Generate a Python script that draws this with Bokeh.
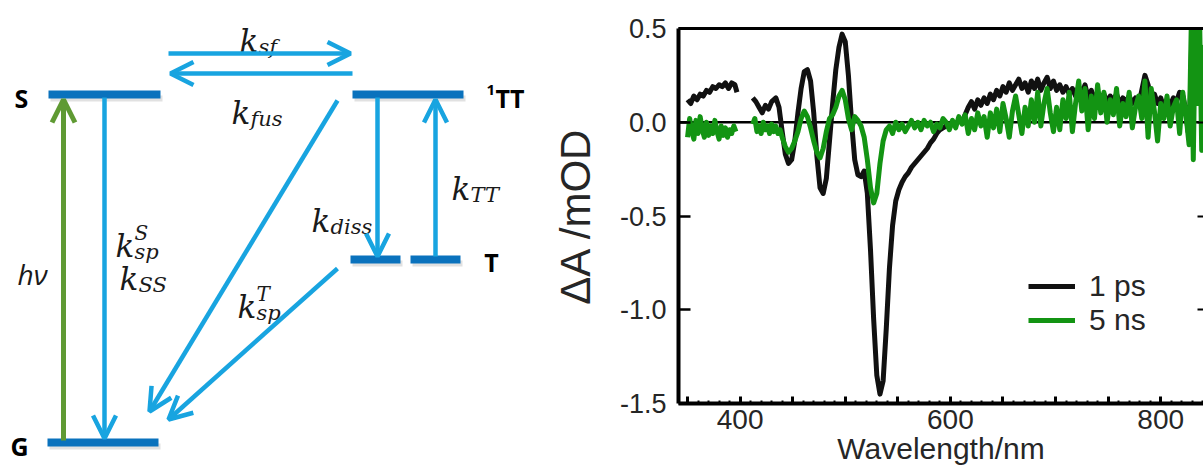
import math
from bokeh.plotting import figure
from bokeh.layouts import row, column
from bokeh.models import (Range1d, Arrow, OpenHead, Span, LinearAxis, FixedTicker,
                          NumeralTickFormatter, Legend, LegendItem)
from bokeh.core.properties import value
from bokeh.embed import file_html
from bokeh.resources import INLINE

NaN = float("nan")

# ---------------- transient absorption spectra ----------------
wl_1ps = [350, 353, 356, 359, 362, 365, 368, 371, 374, 377,
          380, 383, 386, 389, 392, 395, 397, NaN, 412, 415,
          418, 421, 424, 427, 430, 434, 437, 440, 443, 446,
          449, 452, 455, 458, 461, 464, 467, 470, 473, 476,
          479, 482, 485, 488, 491, 494, 497, 500, 503, 506,
          509, 512, 515, 518, 521, 524, 527, 530, 533, 536,
          539, 542, 545, 548, 551, 554, 557, 560, 563, 566,
          569, 572, 575, 578, 581, 584, 587, 590, 593, 596,
          599, 602, 605, 608, 611, 614, 617, 620, 623, 626,
          629, 632, 635, 638, 641, 644, 647, 650, 653, 656,
          659, 662, 665, 668, 671, 674, 677, 680, 683, 686,
          689, 692, 695, 698, 701, 704, 707, 710, 713, 716,
          719, 722, 725, 728, 731, 734, 737, 740, 743, 746,
          749, 752, 755, 758, 761, 764, 767, 770, 773, 776,
          779, 782, 785, 788, 791, 794, 797, 800, 803, 806,
          809, 812, 815, 818, 821, 824, 826, 828, 830, 833]
dA_1ps = [0.12, 0.10, 0.14, 0.12, 0.15, 0.14, 0.17, 0.16, 0.19, 0.18,
          0.20, 0.19, 0.21, 0.18, 0.21, 0.20, 0.16, NaN, 0.13, 0.11,
          0.08, 0.05, 0.09, 0.07, 0.11, 0.13, 0.08, -0.05, -0.17, -0.22,
          -0.20, -0.10, 0.05, 0.18, 0.27, 0.28, 0.22, 0.05, -0.18, -0.35,
          -0.38, -0.30, -0.10, 0.10, 0.28, 0.40, 0.47, 0.43, 0.25, 0.00,
          -0.20, -0.28, -0.29, -0.26, -0.38, -0.68, -1.05, -1.35, -1.45, -1.38,
          -1.10, -0.78, -0.55, -0.42, -0.36, -0.32, -0.29, -0.27, -0.24, -0.22,
          -0.20, -0.18, -0.16, -0.14, -0.11, -0.09, -0.06, -0.04, -0.03, -0.02,
          -0.01, 0.00, -0.01, 0.01, 0.00, 0.04, 0.08, 0.11, 0.07, 0.12,
          0.09, 0.13, 0.10, 0.15, 0.12, 0.17, 0.14, 0.19, 0.16, 0.21,
          0.17, 0.20, 0.23, 0.18, 0.21, 0.16, 0.22, 0.18, 0.23, 0.17,
          0.21, 0.24, 0.18, 0.22, 0.17, 0.20, 0.16, 0.19, 0.15, 0.18,
          0.14, 0.19, 0.15, 0.20, 0.13, 0.17, 0.12, 0.16, 0.13, 0.15,
          0.11, 0.14, 0.12, 0.15, 0.10, 0.13, 0.11, 0.14, 0.10, 0.13,
          0.09, 0.17, 0.25, 0.20, 0.12, 0.15, 0.10, 0.13, 0.08, 0.12,
          0.09, 0.13, 0.11, 0.16, 0.14, 0.06, -0.05, 0.10, 0.55, 0.60]

wl_5ns = [350, 352, 354, 356, 358, 360, 362, 364, 366, 368,
          370, 372, 374, 376, 378, 380, 382, 384, 386, 388,
          390, 392, 394, 396, NaN, 412, 414, 416, 418, 420,
          422, 424, 426, 428, 430, 432, 434, 436, 438, 440,
          443, 446, 449, 452, 455, 458, 461, 464, 467, 470,
          473, 476, 479, 482, 485, 488, 491, 494, 497, 500,
          503, 506, 509, 512, 515, 518, 521, 524, 527, 530,
          533, 536, 539, 542, 545, 548, 551, 554, 557, 560,
          563, 566, 569, 572, 575, 578, 581, 584, 587, 590,
          593, 596, 599, 602, 605, 608, 611, 614, 617, 620,
          623, 626, 629, 632, 635, 638, 641, 644, 647, 650,
          653, 656, 659, 662, 665, 668, 671, 674, 677, 680,
          683, 686, 689, 692, 695, 698, 701, 704, 707, 710,
          713, 716, 719, 722, 725, 728, 731, 734, 737, 740,
          743, 746, 749, 752, 755, 758, 761, 764, 767, 770,
          773, 776, 779, 782, 785, 788, 791, 794, 797, 800,
          803, 806, 809, 812, 815, 818, 821, 824, 827, 829,
          831, 833, 835, 837, 839, 841, 843]
dA_5ns = [-0.08, 0.02, -0.05, -0.09, 0.01, -0.06, 0.03, -0.04, -0.08, 0.00,
          -0.07, -0.02, -0.06, 0.01, -0.05, -0.09, -0.02, -0.07, -0.03, -0.08,
          -0.04, -0.06, -0.02, -0.05, NaN, -0.01, 0.02, -0.05, -0.02, -0.06,
          0.00, -0.04, -0.02, -0.06, -0.01, -0.05, -0.02, -0.06, -0.04, -0.08,
          -0.13, -0.16, -0.14, -0.10, -0.05, 0.02, 0.06, 0.03, -0.03, -0.10,
          -0.16, -0.19, -0.14, -0.05, 0.02, 0.04, 0.08, 0.14, 0.17, 0.12,
          0.02, -0.04, 0.03, 0.01, -0.02, -0.08, -0.20, -0.35, -0.43, -0.38,
          -0.22, -0.10, -0.04, -0.02, -0.06, 0.00, -0.04, -0.01, -0.05, -0.02,
          0.01, -0.03, 0.00, -0.04, 0.01, -0.02, 0.00, -0.05, -0.01, -0.03,
          0.02, 0.00, -0.04, 0.01, -0.03, 0.03, -0.01, 0.04, -0.06, 0.02,
          -0.04, 0.05, -0.02, 0.03, -0.08, 0.05, -0.03, 0.07, -0.05, 0.10,
          0.02, -0.08, 0.06, 0.14, 0.04, -0.06, 0.08, -0.02, 0.12, 0.00,
          0.16, -0.02, 0.10, 0.18, 0.05, -0.05, 0.08, -0.04, 0.12, 0.02,
          0.16, -0.05, 0.10, 0.22, 0.06, 0.18, -0.04, 0.14, 0.02, 0.20,
          0.05, 0.16, 0.00, 0.12, 0.04, 0.18, -0.02, 0.10, 0.03, 0.16,
          -0.03, 0.08, 0.14, 0.02, 0.22, -0.08, 0.18, 0.06, -0.10, 0.10,
          0.02, 0.14, -0.02, 0.08, 0.12, -0.06, 0.16, 0.04, -0.12, 0.50,
          -0.20, 0.55, 0.10, 0.55, -0.15, 0.40, 0.30]

series_labels = ["1 ps", "5 ns"]
y_ticks = [-1.5, -1.0, -0.5, 0.0, 0.5]
x_major_ticks = [350, 400, 450, 500, 550, 600, 650, 700, 750, 800]
x_minor_ticks = [360, 370, 380, 390, 410, 420, 430, 440, 460, 470, 480, 490,
                 510, 520, 530, 540, 560, 570, 580, 590, 610, 620, 630, 640,
                 660, 670, 680, 690, 710, 720, 730, 740, 760, 770, 780, 790,
                 810, 820, 830, 840]
x_label_ticks = [400, 600, 800]

assert len(wl_1ps) == len(dA_1ps) and len(wl_5ns) == len(dA_5ns)

# ---------------- energy-level diagram layout (schematic, screen pixels) ----------------
LEVEL_C = "#0a72bd"
ARROW_C = "#18a4e0"
HV_C = "#5f9a33"

level_x0 = [48, 352, 350, 410, 47]
level_x1 = [160, 463, 400, 460, 158]
level_y = [94, 94, 259, 259, 442]

# (x_start, y_start, x_end, y_end, colour)
arrows = [
    (63, 440, 63, 99, HV_C),
    (104, 97, 104, 438, ARROW_C),
    (168, 53, 350, 53, ARROW_C),
    (352, 73, 170, 73, ARROW_C),
    (337, 100, 149, 411, ARROW_C),
    (337, 268, 168, 419, ARROW_C),
    (377, 97, 377, 256, ARROW_C),
    (435, 256, 435, 99, ARROW_C),
]

# rate-constant labels: (x of "k", baseline y, subscript, superscript)
k_labels = [
    (239, 40, "sf", ""),
    (231, 112, "fus", ""),
    (115, 245, "sp", "S"),
    (119, 278, "SS", ""),
    (237, 306, "sp", "T"),
    (311, 220, "diss", ""),
    (451, 188, "TT", ""),
]

DW = 544
d = figure(frame_width=DW, frame_height=475, x_range=Range1d(0, DW), y_range=Range1d(475, 0),
           output_backend="svg", toolbar_location=None, min_border=0,
           x_axis_location=None, y_axis_location=None)
d.grid.visible = False
d.outline_line_color = None

# soft shadow under the level bars
d.segment(x0=[x + 2 for x in level_x0], y0=[y + 4 for y in level_y],
          x1=[x + 2 for x in level_x1], y1=[y + 4 for y in level_y],
          line_color="#888888", line_alpha=0.25, line_width=6)
d.segment(x0=level_x0, y0=level_y, x1=level_x1, y1=level_y,
          line_color=LEVEL_C, line_width=8, line_cap="butt")

for (xs, ys, xe, ye, c) in arrows:
    lw = 5 if c == HV_C else 4.5
    d.add_layout(Arrow(end=OpenHead(size=23, line_color=c, line_width=lw),
                       x_start=xs, y_start=ys, x_end=xe, y_end=ye,
                       line_color=c, line_width=lw))

KW = 19
d.text(x=[k[0] for k in k_labels], y=[k[1] for k in k_labels], text=["k"] * len(k_labels),
       text_font=value("DejaVu Serif"), text_font_style="italic", text_font_size="31px",
       text_baseline="alphabetic", text_align="left", text_color="#1a1a1a")
d.text(x=[k[0] + KW for k in k_labels], y=[k[1] + 6 for k in k_labels], text=[k[2] for k in k_labels],
       text_font=value("DejaVu Serif"), text_font_style="italic", text_font_size="21px",
       text_baseline="alphabetic", text_align="left", text_color="#1a1a1a")
sup = [k for k in k_labels if k[3]]
d.text(x=[k[0] + KW for k in sup], y=[k[1] - 13 for k in sup], text=[k[3] for k in sup],
       text_font=value("DejaVu Serif"), text_font_style="italic", text_font_size="20px",
       text_baseline="alphabetic", text_align="left", text_color="#1a1a1a")

d.text(x=[17], y=[273], text=["hν"], text_font=value("Open Sans"), text_font_style="italic",
       text_font_size="28px", text_baseline="alphabetic", text_align="left", text_color="#1a1a1a")

d.text(x=[21, 19, 491], y=[97, 445, 261], text=["S", "G", "T"],
       text_font=value("Open Sans"), text_font_style="bold", text_font_size="25px",
       text_baseline="middle", text_align="center", text_color="black")
d.text(x=[495], y=[97], text=["TT"], text_font=value("Open Sans"), text_font_style="bold",
       text_font_size="25px", text_baseline="middle", text_align="left", text_color="black")
d.text(x=[486], y=[89], text=["1"], text_font=value("Open Sans"), text_font_style="bold",
       text_font_size="15px", text_baseline="middle", text_align="left", text_color="black")

# ---------------- spectrum figure ----------------
FONT = "Liberation Sans"
TXT = "#262626"
p = figure(width=1203 - DW, height=475, x_range=Range1d(341.4, 840.7), y_range=Range1d(-1.5, 0.5),
           output_backend="svg", toolbar_location=None,
           min_border_left=678 - DW, min_border_right=0, min_border_top=28, min_border_bottom=72,
           x_axis_location=None, y_axis_location=None)
p.grid.visible = False
p.outline_line_color = None

p.add_layout(Span(location=0.0, dimension="width", line_color="black", line_width=2.5, level="underlay"))

r1 = p.line(wl_1ps, dA_1ps, line_color="#111111", line_width=5, line_join="round")
r2 = p.line(wl_5ns, dA_5ns, line_color="#139413", line_width=5, line_join="round")

yax = LinearAxis(ticker=FixedTicker(ticks=y_ticks), formatter=NumeralTickFormatter(format="0.0"))
yax.axis_label = "ΔA /mOD"
yax.axis_label_text_font = FONT
yax.axis_label_text_font_size = "42px"
yax.axis_label_text_font_style = "normal"
yax.axis_label_text_color = TXT
yax.axis_label_standoff = 18
yax.major_label_text_font = FONT
yax.major_label_text_font_size = "27px"
yax.major_label_text_color = TXT
yax.major_label_standoff = 12
yax.axis_line_width = 4
yax.major_tick_in = 12
yax.major_tick_out = 0
yax.major_tick_line_width = 2.5
yax.minor_tick_line_color = None
p.add_layout(yax, "left")

xax = LinearAxis(ticker=FixedTicker(ticks=x_major_ticks, minor_ticks=x_minor_ticks),
                 major_label_overrides={t: (str(t) if t in x_label_ticks else "") for t in x_major_ticks})
xax.axis_label = "Wavelength/nm"
xax.axis_label_text_font = FONT
xax.axis_label_text_font_size = "30px"
xax.axis_label_text_font_style = "normal"
xax.axis_label_text_color = TXT
xax.axis_label_standoff = 0
xax.major_label_text_font = FONT
xax.major_label_text_font_size = "28px"
xax.major_label_text_color = TXT
xax.major_label_standoff = 6
xax.axis_line_width = 4
xax.major_tick_in = 7
xax.major_tick_out = 0
xax.major_tick_line_width = 3
xax.minor_tick_in = 3
xax.minor_tick_out = 0
xax.minor_tick_line_width = 2
p.add_layout(xax, "below")

tax = LinearAxis(ticker=FixedTicker(ticks=[]), axis_line_width=3,
                 major_tick_line_color=None, minor_tick_line_color=None,
                 major_label_text_font_size="0px", major_label_standoff=0)
p.add_layout(tax, "above")

rax = LinearAxis(ticker=FixedTicker(ticks=y_ticks), axis_line_color=None,
                 major_tick_in=6, major_tick_out=0, major_tick_line_width=2,
                 minor_tick_line_color=None, major_label_text_font_size="0px",
                 major_label_standoff=0,
                 major_label_overrides={t: "" for t in y_ticks})
p.add_layout(rax, "right")

legend = Legend(items=[LegendItem(label=series_labels[0], renderers=[r1]),
                       LegendItem(label=series_labels[1], renderers=[r2])],
                location=(350, 66), orientation="vertical",
                border_line_color=None, background_fill_alpha=0,
                padding=0, margin=0, spacing=0,
                glyph_width=47, glyph_height=28, label_height=28, label_standoff=14,
                label_text_font=FONT, label_text_font_size="30px", label_text_color=TXT)
p.add_layout(legend, "center")

layout = row(column(d), column(p))
open("out.html", "w").write(file_html(layout, INLINE))
